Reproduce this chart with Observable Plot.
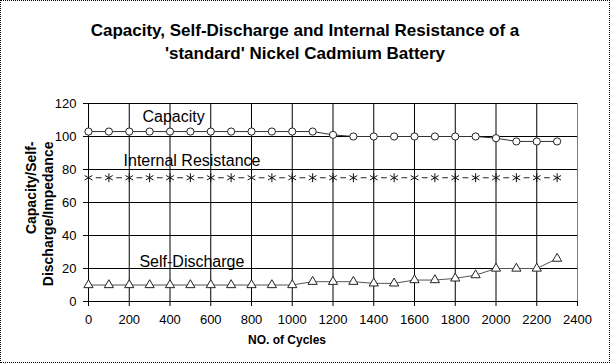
<!DOCTYPE html>
<html><head><meta charset="utf-8">
<script src="https://cdn.jsdelivr.net/npm/d3@7"></script>
<script src="https://cdn.jsdelivr.net/npm/@observablehq/plot@0.6"></script>
<style>
body{margin:0;background:#fff;}
#wrap{position:relative;width:610px;height:363px;font-family:"Liberation Sans",Arial,sans-serif;overflow:hidden;}
#title{position:absolute;left:0;width:610px;top:19px;text-align:center;font-weight:bold;font-size:17px;line-height:23px;color:#000;}
#frame{position:absolute;left:0;top:0;width:608px;height:361px;border:1px dotted #000;pointer-events:none;}
</style></head><body>
<div id="wrap"><div id="chart"></div><div id="title">Capacity, Self-Discharge and Internal Resistance of a<br>'standard' Nickel Cadmium Battery</div><div id="frame"></div></div>
<script>
const cycles = [0,100,200,300,400,500,600,700,800,900,1000,1100,1200,1300,1400,1500,1600,1700,1800,1900,2000,2100,2200,2300];
const capacity = [103,103,103,103,103,103,103,103,103,103,103,103,101,100,100,100,100,100,100,100,99,97,97,97];
const internalResistance = [75,75,75,75,75,75,75,75,75,75,75,75,75,75,75,75,75,75,75,75,75,75,75,75];
const selfDischarge = [10,10,10,10,10,10,10,10,10,10,10,12,12,12,11,11,13,13,14,16,20,20,20,26];
const xTicks = [0,200,400,600,800,1000,1200,1400,1600,1800,2000,2200,2400];
const yTicks = [0,20,40,60,80,100,120];
const seriesNames = ["Capacity","Internal Resistance","Self-Discharge"];

const W = 610, H = 363, mL = 88, mR = 33, mT = 103, mB = 62;
const step = (W - mL - mR) / 24;
const dash = 5, gap = (step - dash) / 2;

const cap = cycles.map((c,i)=>({x:c, y:capacity[i]}));
const res = cycles.map((c,i)=>({x:c, y:internalResistance[i]}));
const sd = cycles.map((c,i)=>({x:c, y:selfDischarge[i]}));

const chart = Plot.plot({
  width: W, height: H,
  marginLeft: mL, marginRight: mR, marginTop: mT, marginBottom: mB,
  style: {fontFamily: "'Liberation Sans', Arial, sans-serif", fontSize: "13px", background: "white", color: "black", overflow: "visible"},
  x: {domain: [0, 2400], label: null},
  y: {domain: [0, 120], label: null},
  marks: [
    Plot.ruleY(yTicks.slice(1), {stroke: "black", strokeWidth: 1}),
    Plot.ruleX(xTicks.slice(1, -1), {stroke: "black", strokeWidth: 1}),
    Plot.ruleX([2400], {stroke: "#808080"}),
    Plot.ruleX([0], {stroke: "black"}),
    Plot.ruleY([0], {stroke: "black"}),
    Plot.axisY({ticks: yTicks, tickSize: 5, tickPadding: 7, label: null, tickFormat: d => String(d)}),
    Plot.axisX({ticks: xTicks, tickSize: 5, tickPadding: 8, label: null, tickFormat: d => String(d)}),
    Plot.line(cap, {x: "x", y: "y", stroke: "#333", strokeWidth: 1}),
    Plot.dot(cap, {x: "x", y: "y", r: 3.6, fill: "white", stroke: "#222", strokeWidth: 1}),
    Plot.line(res, {x: "x", y: "y", stroke: "#222", strokeWidth: 1, strokeDasharray: `0 ${gap} ${dash} ${gap}`}),
    Plot.dot(res, {x: "x", y: "y", symbol: "asterisk", r: 4.2, stroke: "#111", strokeWidth: 1}),
    Plot.line(sd, {x: "x", y: "y", stroke: "#555", strokeWidth: 1}),
    Plot.dot(sd, {x: "x", y: "y", symbol: "triangle", r: 3.4, fill: "white", stroke: "#222", strokeWidth: 1}),
    Plot.text([seriesNames[0]], {x: 265, y: 112, text: d => d, textAnchor: "start", fontSize: 16}),
    Plot.text([seriesNames[1]], {x: 172, y: 85, text: d => d, textAnchor: "start", fontSize: 16}),
    Plot.text([seriesNames[2]], {x: 250, y: 24, text: d => d, textAnchor: "start", fontSize: 16}),
    Plot.text(["Capacity/Self-\nDischarge/Impedance"], {text: d => d, frameAnchor: "top-left", dx: -49, dy: 38, rotate: -90, textAnchor: "end", lineAnchor: "middle", lineHeight: 1.2, fontWeight: "bold", fontSize: 14}),
    Plot.text(["NO. of Cycles"], {text: d => d, frameAnchor: "bottom", dx: -46, dy: 42, fontWeight: "bold", fontSize: 12})
  ]
});
document.getElementById("chart").appendChild(chart);
</script>
</body></html>
